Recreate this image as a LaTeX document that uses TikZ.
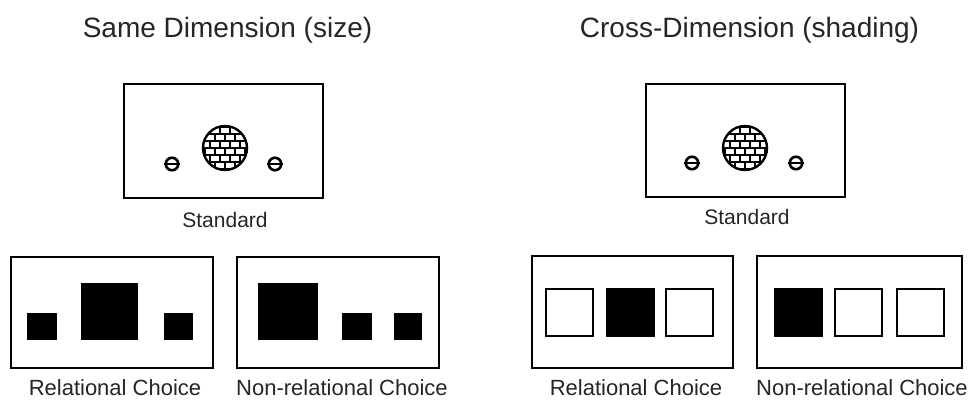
\documentclass[tikz,border=0pt]{standalone}
\usepackage{fontspec}
\setmainfont{Liberation Sans}
\begin{document}
\begin{tikzpicture}[x=1pt,y=-1pt,
  txt/.style={text=black!85, inner sep=0pt, anchor=center},
  title/.style={txt, font=\fontsize{28}{32}\selectfont},
  lab/.style={txt, font=\fontsize{22}{26}\selectfont},
  frame/.style={draw=black, line width=2.4pt, inner sep=0pt, fill=white},
  solid sq/.style={draw=black, fill=black, line width=1pt, inner sep=0pt},
  open sq/.style={draw=black, fill=white, line width=2pt, inner sep=0pt},
  dot/.style={draw=black, line width=2.6pt, circle, inner sep=0pt, minimum size=12.5pt, fill=white},
  mortar/.style={line width=2.2pt, black}
]
\useasboundingbox (0,0) rectangle (972,403);
\fill[white] (0,0) rectangle (972,403);

% titles
\node[title] (t1) at (227.5,30) {Same Dimension (size)};
\node[title] (t2) at (749.5,30) {Cross-Dimension (shading)};

% standard boxes
\node[frame, minimum width=199pt, minimum height=114pt] (s1) at (223.5,141) {};
\node[frame, minimum width=199pt, minimum height=113pt] (s2) at (745.5,140.5) {};
\node[lab, font=\fontsize{21}{25}\selectfont] (st1) at (225,220) {Standard};
\node[lab, font=\fontsize{21}{25}\selectfont] (st2) at (747,217) {Standard};

% small dots
\node[dot] (d1) at (172,164) {};
\node[dot] (d2) at (275,164) {};
\node[dot] (d3) at (692,163) {};
\node[dot] (d4) at (796,163) {};
\foreach \n in {d1,d2,d3,d4}{
  \draw[line width=1.8pt] (\n.west) -- (\n.east);
}

% brick circles
\foreach \cx/\cy in {225/148, 745/148}{
  \begin{scope}[shift={(\cx,\cy)}]
    \fill[white] (0,0) circle (22);
    \begin{scope}
      \clip (0,0) circle (22);
      \foreach \k in {0,...,6}{
        \pgfmathsetmacro{\yy}{-21+7*\k}
        \draw[mortar] (-25,\yy) -- (25,\yy);
        \pgfmathsetmacro{\off}{mod(\k,2)*5}
        \foreach \j in {0,...,5}{
          \pgfmathsetmacro{\xx}{-25+10*\j+\off}
          \draw[mortar] (\xx,\yy) -- (\xx,\yy+7);
        }
      }
    \end{scope}
    \draw[line width=2.4pt] (0,0) circle (22);
  \end{scope}
}

% bottom frames
\node[frame, minimum width=202pt, minimum height=111pt] (b1) at (112,312.5) {};
\node[frame, minimum width=202pt, minimum height=111pt] (b2) at (338,312.5) {};
\node[frame, minimum width=201pt, minimum height=112pt] (b3) at (632.5,312) {};
\node[frame, minimum width=205pt, minimum height=112pt] (b4) at (859.5,312) {};

% size squares
\node[solid sq, minimum width=29pt, minimum height=26pt] (q1) at (42,326.5) {};
\node[solid sq, minimum width=56pt, minimum height=56pt] (q2) at (109.5,311.5) {};
\node[solid sq, minimum width=28pt, minimum height=26pt] (q3) at (178.5,326.5) {};
\node[solid sq, minimum width=59pt, minimum height=56pt] (q4) at (288,311.5) {};
\node[solid sq, minimum width=29pt, minimum height=26pt] (q5) at (357,326.5) {};
\node[solid sq, minimum width=27pt, minimum height=26pt] (q6) at (408,326.5) {};

% shading squares
\node[open sq, minimum width=47pt, minimum height=47pt] (r1) at (569.5,312.5) {};
\node[solid sq, minimum width=48pt, minimum height=48pt] (r2) at (630.5,312.5) {};
\node[open sq, minimum width=47pt, minimum height=47pt] (r3) at (689,312.5) {};
\node[solid sq, minimum width=48pt, minimum height=48pt] (r4) at (798,312.5) {};
\node[open sq, minimum width=47pt, minimum height=47pt] (r5) at (858,312.5) {};
\node[open sq, minimum width=47pt, minimum height=47pt] (r6) at (920,312.5) {};

% labels
\node[lab] (l1) at (115,388) {Relational Choice};
\node[lab] (l2) at (342,388) {Non-relational Choice};
\node[lab] (l3) at (636,388) {Relational Choice};
\node[lab] (l4) at (862,388) {Non-relational Choice};
\end{tikzpicture}
\end{document}
